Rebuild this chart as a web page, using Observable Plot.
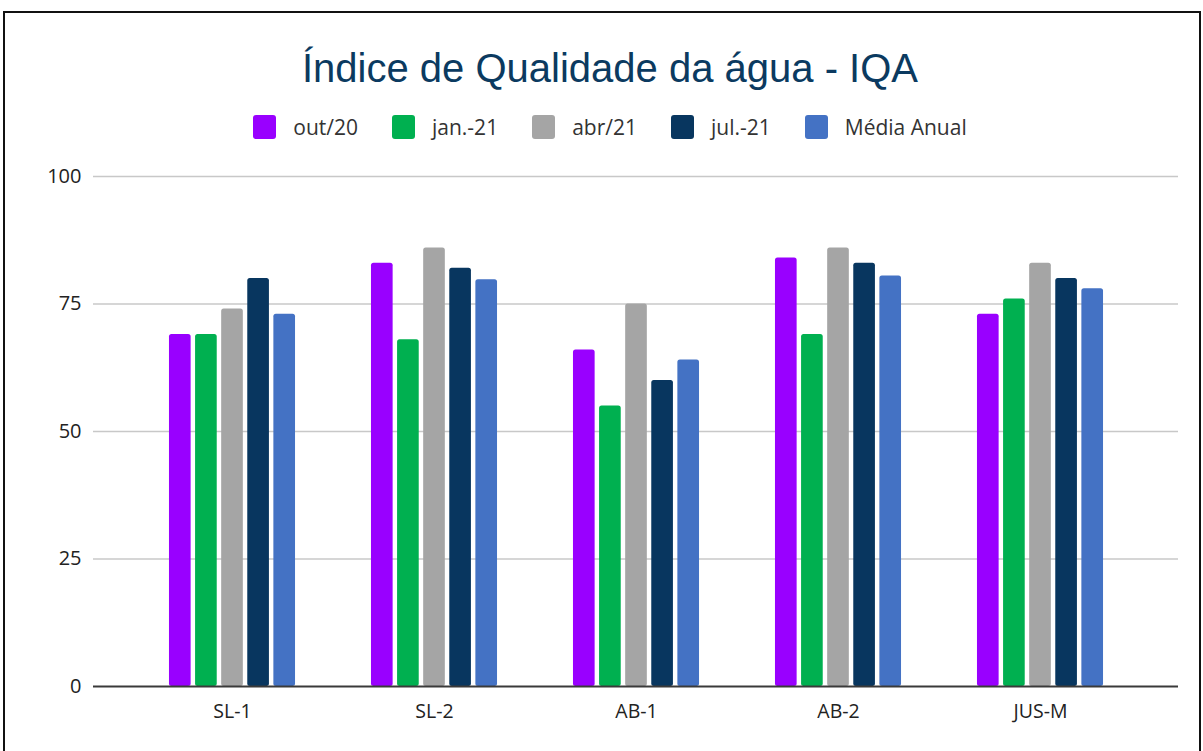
<!DOCTYPE html>
<html><head><meta charset="utf-8">
<script src="https://cdn.jsdelivr.net/npm/d3@7"></script>
<script src="https://cdn.jsdelivr.net/npm/@observablehq/plot@0.6"></script>
<style>
body{margin:0;background:#fff;}
#frame{position:absolute;left:3px;top:11px;width:1194px;height:800px;border:2px solid #111;background:#fff;overflow:hidden;}
#title{position:absolute;left:0;top:35px;width:100%;padding-left:16px;box-sizing:border-box;text-align:center;font-family:"Liberation Sans",Arial,sans-serif;font-size:40px;line-height:40px;color:#0b3a60;white-space:nowrap;}
#legend{position:absolute;left:0;top:102px;width:100%;height:24px;padding-left:16px;box-sizing:border-box;display:flex;justify-content:center;align-items:center;font-family:"Open Sans",sans-serif;font-size:21px;color:#333;}
.item{display:flex;align-items:center;margin:0 17px;white-space:nowrap;}
.sw{width:23px;height:24px;border-radius:3px;margin-right:17px;}
#chart{position:absolute;left:0;top:137px;}
</style></head>
<body>
<div id="frame">
  <div id="title">Índice de Qualidade da água - IQA</div>
  <div id="legend"></div>
  <div id="chart"></div>
</div>
<script>
const sites = ["SL-1", "SL-2", "AB-1", "AB-2", "JUS-M"];
const seriesNames = ["out/20", "jan.-21", "abr/21", "jul.-21", "Média Anual"];
const out20 = [69, 83, 66, 84, 73];
const jan21 = [69, 68, 55, 69, 76];
const abr21 = [74, 86, 75, 86, 83];
const jul21 = [80, 82, 60, 83, 80];
const mediaAnual = [73, 79.75, 64, 80.5, 78];
const colors = ["#9900ff", "#00b050", "#a5a5a5", "#08365f", "#4472c4"];
const yTicks = [0, 25, 50, 75, 100];

const seriesValues = [out20, jan21, abr21, jul21, mediaAnual];
const rows = [];
seriesNames.forEach((s, i) => sites.forEach((site, j) => rows.push({site, series: s, value: seriesValues[i][j]})));

// legend
const legend = document.getElementById("legend");
seriesNames.forEach((s, i) => {
  const it = document.createElement("div"); it.className = "item";
  const sw = document.createElement("div"); sw.className = "sw"; sw.style.background = colors[i];
  const tx = document.createElement("span"); tx.textContent = s;
  it.appendChild(sw); it.appendChild(tx); legend.appendChild(it);
});

const W = 1194, H = 596, ML = 88, MR = 21, MT = 26, MB = 60;
const step = 202;
const po = ((W - ML - MR) / step - sites.length) / 2;
const inner = d3.scaleBand().domain(seriesNames).range([0, step]).paddingInner(0.17).paddingOuter(1.455);

const bars = seriesNames.map((s, i) => Plot.barY(rows.filter(r => r.series === s), {
  x: "site", y: "value", fill: colors[i], rx: 2.5,
  insetLeft: inner(s), insetRight: step - inner(s) - inner.bandwidth()
}));

const chart = Plot.plot({
  width: W, height: H, marginTop: MT, marginBottom: MB, marginLeft: ML, marginRight: MR,
  style: {fontFamily: "'Open Sans', sans-serif", fontSize: "20px", color: "#222", background: "transparent"},
  x: {domain: sites, paddingInner: 0, paddingOuter: po, align: 0.5, label: null},
  y: {domain: [0, 100], label: null},
  marks: [
    Plot.ruleY(yTicks.filter(d => d > 0), {stroke: "#c8c8c8", strokeWidth: 1.5}),
    ...bars,
    Plot.ruleY([0], {stroke: "#3a3a3a", strokeWidth: 2}),
    Plot.axisY({ticks: yTicks, tickSize: 0, tickPadding: 12, label: null, fontSize: 20, fill: "#222"}),
    Plot.axisX({tickSize: 0, tickPadding: 18, label: null, fontSize: 19.5, fill: "#222"})
  ]
});
document.getElementById("chart").appendChild(chart);
</script>
</body></html>
